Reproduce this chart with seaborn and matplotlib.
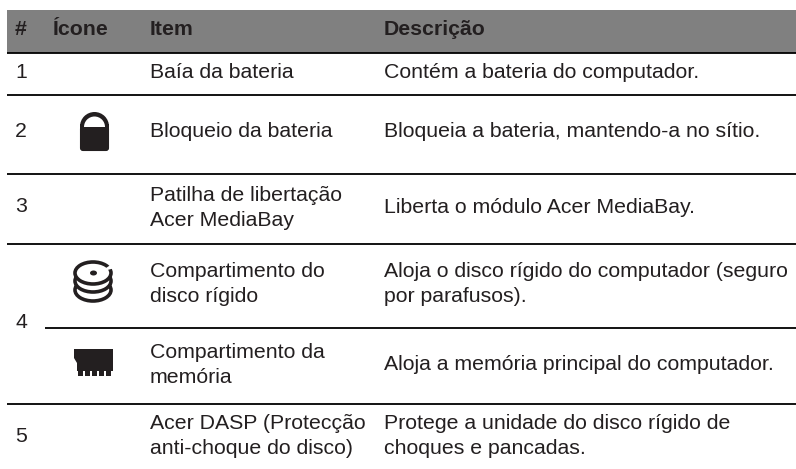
import matplotlib
matplotlib.use("Agg")
import matplotlib.pyplot as plt
from matplotlib.patches import Rectangle, Ellipse, Wedge, Polygon, FancyBboxPatch
import seaborn as sns

sns.set_theme(style="white")
plt.rcParams['font.family'] = ['Liberation Sans', 'DejaVu Sans']

headers = ["#", "Ícone", "Item", "Descrição"]
numbers = ["1", "2", "3", "4", "5"]
items = ["Baía da bateria", "Bloqueio da bateria", "Patilha de libertação\nAcer MediaBay",
         "Compartimento do\ndisco rígido", "Compartimento da\nmemória",
         "Acer DASP (Protecção\nanti-choque do disco)"]
descriptions = ["Contém a bateria do computador.", "Bloqueia a bateria, mantendo-a no sítio.",
                "Liberta o módulo Acer MediaBay.",
                "Aloja o disco rígido do computador (seguro\npor parafusos).",
                "Aloja a memória principal do computador.",
                "Protege a unidade do disco rígido de\nchoques e pancadas."]

W, H = 796, 469
fig = plt.figure(figsize=(W/100, H/100), dpi=100)
ax = fig.add_axes([0, 0, 1, 1])
ax.set_xlim(0, W); ax.set_ylim(H, 0); ax.axis("off")
dark = "#231f20"
fs = 15.3
L, R = 7, 796
ls = 1.42
ax.add_patch(Rectangle((L, 10), R-L, 43, color="#808080", lw=0))
for x, t in zip([15, 53, 150, 384], headers):
    ax.text(x, 35, t, fontsize=fs, fontweight="bold", color=dark, va="baseline", ha="left")
for y, x0 in [(53, L), (95, L), (174, L), (244, L), (328, 45), (404, L)]:
    ax.plot([x0, R], [y, y], color="black", lw=1.3, solid_capstyle="butt")
for t, y in zip(numbers, [78, 137, 212, 328, 442]):
    ax.text(15, y, t, fontsize=fs, color=dark, va="baseline", ha="left")
item_base = [78, 137, 226, 302.5, 383, 454]
desc_base = [78, 137, 213, 302.5, 370, 454]
for t, y in zip(items, item_base):
    ax.text(150, y, t, fontsize=fs, color=dark, va="baseline", ha="left", linespacing=ls)
for t, y in zip(descriptions, desc_base):
    ax.text(384, y, t, fontsize=fs, color=dark, va="baseline", ha="left", linespacing=ls)
# lock icon
ax.add_patch(Wedge((94.5, 126.5), 14.5, 180, 360, color=dark, lw=0))
ax.add_patch(FancyBboxPatch((81, 127), 27, 23, boxstyle="round,pad=0,rounding_size=2", fc=dark, ec=dark, lw=1.5))
ax.add_patch(Rectangle((80, 124), 29, 8, color=dark, lw=0))
ax.add_patch(Wedge((94.5, 127), 10.5, 180, 360, color="white", lw=0))
# disk icon
for cy in (290, 281):
    ax.add_patch(Ellipse((93, cy), 36, 22, fc="white", ec=dark, lw=2.6))
ax.add_patch(Ellipse((93, 273), 36, 22, fc="white", ec=dark, lw=2.6))
ax.add_patch(Ellipse((93.5, 273), 7, 5, color=dark, lw=0))
ax.add_patch(Polygon([(100, 272), (115, 262), (115, 268)], color="white", lw=0))
# memory icon
ax.add_patch(Polygon([(74, 349), (113, 349), (113, 371), (77, 371), (77, 363), (74, 358)], color=dark, lw=0))
for x in (77.5, 84.5, 91.5, 98.5, 105.5):
    ax.add_patch(Rectangle((x, 371), 5, 5, color=dark, lw=0))
fig.savefig("out.png", dpi=100)
